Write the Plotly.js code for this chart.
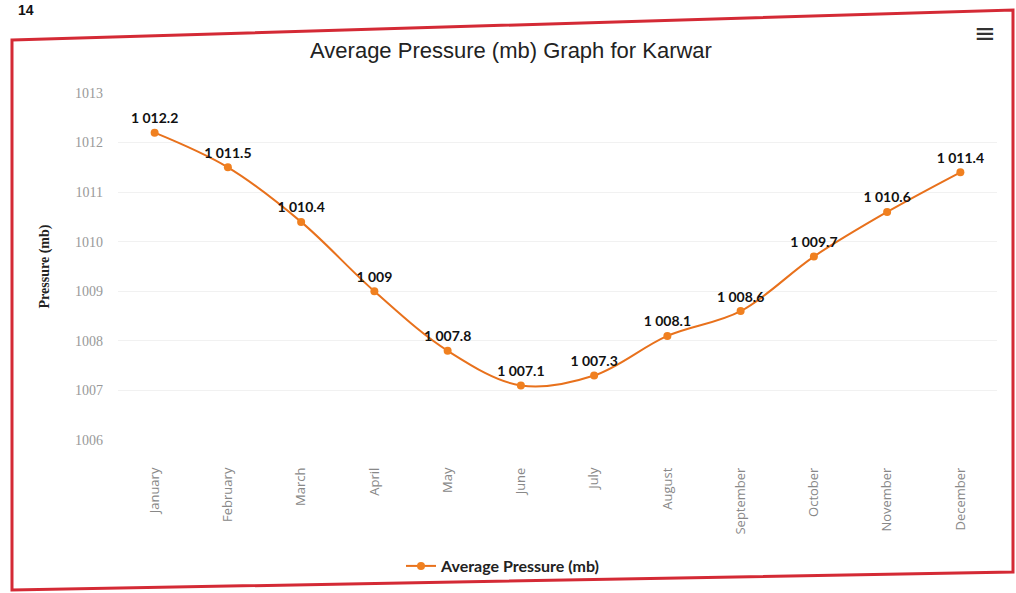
<!DOCTYPE html>
<html>
<head>
<meta charset="utf-8">
<script src="https://cdn.plot.ly/plotly-3.0.1.min.js"></script>
<style>
html,body{margin:0;padding:0;background:#fff;}
#chart{width:1016px;height:593px;}
</style>
</head>
<body>
<div id="chart"></div>
<script>
const months = ["January","February","March","April","May","June","July","August","September","October","November","December"];
const pressure = [1012.2, 1011.5, 1010.4, 1009, 1007.8, 1007.1, 1007.3, 1008.1, 1008.6, 1009.7, 1010.6, 1011.4];
const yTicks = [1006, 1007, 1008, 1009, 1010, 1011, 1012, 1013];
const seriesName = "Average Pressure (mb)";
const chartTitle = "Average Pressure (mb) Graph for Karwar";
const yTitle = "Pressure (mb)";

const W = 1016, H = 593;
const ML = 118, MR = 19, MT = 93, MB = 153;
const pw = W - ML - MR, ph = H - MT - MB;
const px = x => (x - ML) / pw;
const py = y => (H - MB - y) / ph;

const border = [[12,40],[1013,10],[1013,572],[12,590]];
const borderPath = 'M ' + border.map(p => px(p[0]).toFixed(4) + ',' + py(p[1]).toFixed(4)).join(' L ') + ' Z';

const trace = {
  type: 'scatter',
  mode: 'lines+markers+text',
  name: seriesName,
  x: months,
  y: pressure,
  texttemplate: '%{y:,}',
  textposition: 'top center',
  textfont: {family: 'Lato, "DejaVu Sans", sans-serif', size: 14, color: '#111', weight: 'bold'},
  line: {color: '#e8711c', width: 2, shape: 'spline', smoothing: 1},
  marker: {color: '#f08020', size: 8, symbol: 'circle'},
  cliponaxis: false,
  hoverinfo: 'x+y'
};

const layout = {
  width: W, height: H,
  margin: {l: ML, r: MR, t: MT, b: MB, autoexpand: false},
  paper_bgcolor: '#ffffff',
  plot_bgcolor: '#ffffff',
  separators: '. ',
  showlegend: true,
  title: {
    text: chartTitle,
    x: px(511), xref: 'paper', xanchor: 'center',
    y: 1 - 50 / H, yanchor: 'middle',
    font: {family: '"Liberation Sans", Arial, sans-serif', size: 22, color: '#222'}
  },
  xaxis: {
    type: 'category',
    range: [-0.5, 11.5],
    automargin: false,
    tickangle: -90,
    ticklabelstandoff: 24,
    tickfont: {family: '"Open Sans", "DejaVu Sans", sans-serif', size: 13, color: '#888'},
    showgrid: false,
    zeroline: false,
    showline: false,
    ticks: ''
  },
  yaxis: {
    range: [1006, 1013],
    automargin: false,
    tickvals: yTicks,
    ticktext: yTicks.map(String),
    tickfont: {family: '"Liberation Serif", serif', size: 14, color: '#999'},
    ticklabelstandoff: 14,
    showgrid: true,
    gridcolor: '#f1f1f1',
    zeroline: false,
    showline: false,
    title: {
      text: yTitle,
      standoff: 22,
      font: {family: '"Liberation Serif", serif', size: 14, color: '#222', weight: 'bold'}
    }
  },
  legend: {
    orientation: 'h',
    x: px(503), xanchor: 'center',
    y: py(566), yanchor: 'middle',
    font: {family: 'Lato, "DejaVu Sans", sans-serif', size: 16, color: '#222', weight: 'bold'},
    bgcolor: 'rgba(0,0,0,0)'
  },
  shapes: [{
    type: 'path', xref: 'paper', yref: 'paper',
    path: borderPath,
    line: {color: '#d42a35', width: 3},
    fillcolor: 'rgba(0,0,0,0)'
  }],
  annotations: [
    {
      text: '≡', xref: 'paper', yref: 'paper',
      x: px(985), y: py(33), xanchor: 'center', yanchor: 'middle',
      showarrow: false,
      font: {family: '"DejaVu Sans", sans-serif', size: 26, color: '#333'}
    },
    {
      text: '<b>14</b>', xref: 'paper', yref: 'paper',
      x: px(16), y: py(0), xanchor: 'left', yanchor: 'top',
      showarrow: false,
      font: {family: '"Liberation Sans", Arial, sans-serif', size: 14, color: '#111'}
    }
  ]
};

Plotly.newPlot('chart', [trace], layout, {displayModeBar: false, responsive: false});
</script>
</body>
</html>
